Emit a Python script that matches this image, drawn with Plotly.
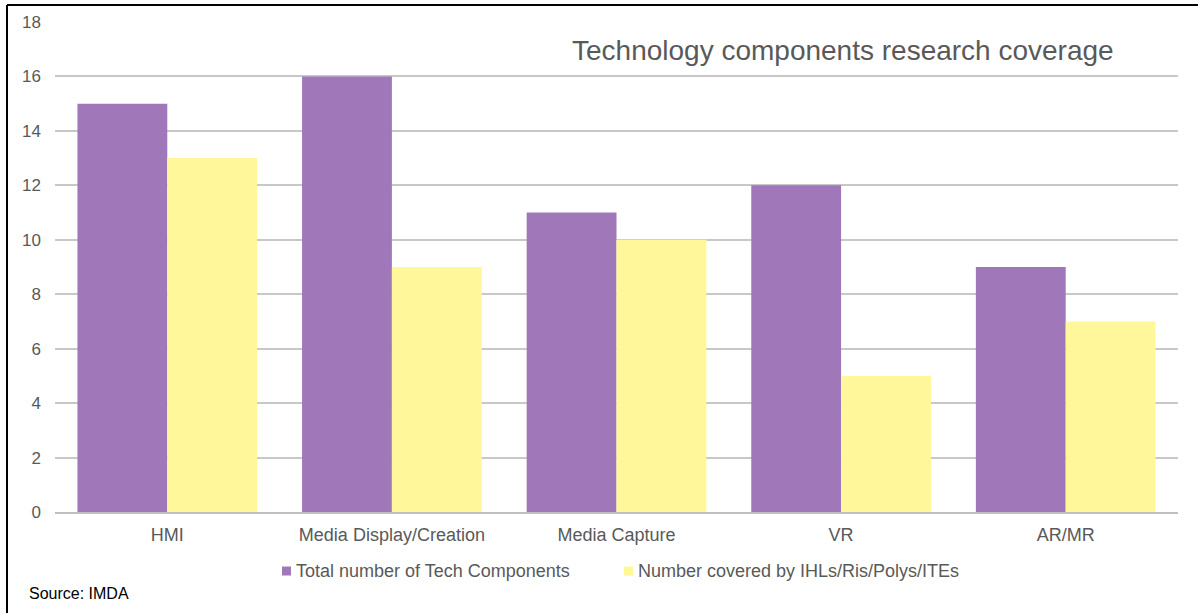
import plotly.graph_objects as go

categories = ["HMI", "Media Display/Creation", "Media Capture", "VR", "AR/MR"]
total_components = [15, 16, 11, 12, 9]
covered = [13, 9, 10, 5, 7]
series_names = ["Total number of Tech Components", "Number covered by IHLs/Ris/Polys/ITEs"]
series_colors = ["#A078B9", "#FFF799"]
y_ticks = [0, 2, 4, 6, 8, 10, 12, 14, 16, 18]

W, H = 1198, 613
ml, mr, mt, mb = 55, 20, 22, 101
pw, ph = W - ml - mr, H - mt - mb

def px_x(p):
    return (p - ml) / pw

def px_y(p):
    return (H - mb - p) / ph

fig = go.Figure()
fig.add_trace(go.Bar(x=categories, y=total_components, name=series_names[0],
                     marker=dict(color=series_colors[0], line=dict(width=0)), showlegend=False))
fig.add_trace(go.Bar(x=categories, y=covered, name=series_names[1],
                     marker=dict(color=series_colors[1], line=dict(width=0)), showlegend=False))

font = "Liberation Sans, Arial, sans-serif"
text_col = "#595959"

# manual legend (matches original small square swatches)
legend_pos = [(282, 294), (624, 636)]
legend_y = 571
shapes = []
annotations = []
for (sx, tx), name, col in zip(legend_pos, series_names, series_colors):
    shapes.append(dict(type="rect", xref="paper", yref="paper",
                       x0=px_x(sx), x1=px_x(sx + 9), y0=px_y(legend_y - 4.5), y1=px_y(legend_y + 4.5),
                       fillcolor=col, line=dict(width=0)))
    annotations.append(dict(text=name, xref="paper", yref="paper", x=px_x(tx), y=px_y(legend_y),
                            xanchor="left", yanchor="middle", showarrow=False,
                            font=dict(size=18, color=text_col, family=font)))

annotations += [
    dict(text="Technology components research coverage", xref="paper", yref="paper",
         x=px_x(843), y=px_y(50), xanchor="center", yanchor="middle", showarrow=False,
         font=dict(size=28, color=text_col, family=font)),
    dict(text="Source: IMDA", xref="paper", yref="paper",
         x=px_x(27), y=px_y(593), xanchor="left", yanchor="middle", showarrow=False,
         font=dict(size=16, color="#000000", family=font)),
]
shapes += [
    dict(type="line", xref="paper", yref="paper", x0=px_x(7), x1=px_x(W), y0=px_y(5), y1=px_y(5),
         line=dict(color="black", width=2)),
    dict(type="line", xref="paper", yref="paper", x0=px_x(7), x1=px_x(7), y0=px_y(5), y1=px_y(H),
         line=dict(color="black", width=2)),
]

fig.update_layout(
    width=W, height=H,
    margin=dict(l=ml, r=mr, t=mt, b=mb),
    paper_bgcolor="white", plot_bgcolor="white",
    barmode="group", bargap=0.2, bargroupgap=0,
    font=dict(family=font, color=text_col, size=18),
    showlegend=False,
    xaxis=dict(showgrid=False, showline=True, linecolor="#BFBFBF", linewidth=2,
               ticks="", tickfont=dict(size=18, color=text_col), ticklabelstandoff=5),
    yaxis=dict(range=[0, 18], tickvals=y_ticks, showgrid=True, gridcolor="#C8C8C8",
               gridwidth=1.5, zeroline=False, showline=False, ticks="",
               tickfont=dict(size=17, color=text_col), ticklabelstandoff=13),
    annotations=annotations,
    shapes=shapes,
)

fig.write_html("out.html")
